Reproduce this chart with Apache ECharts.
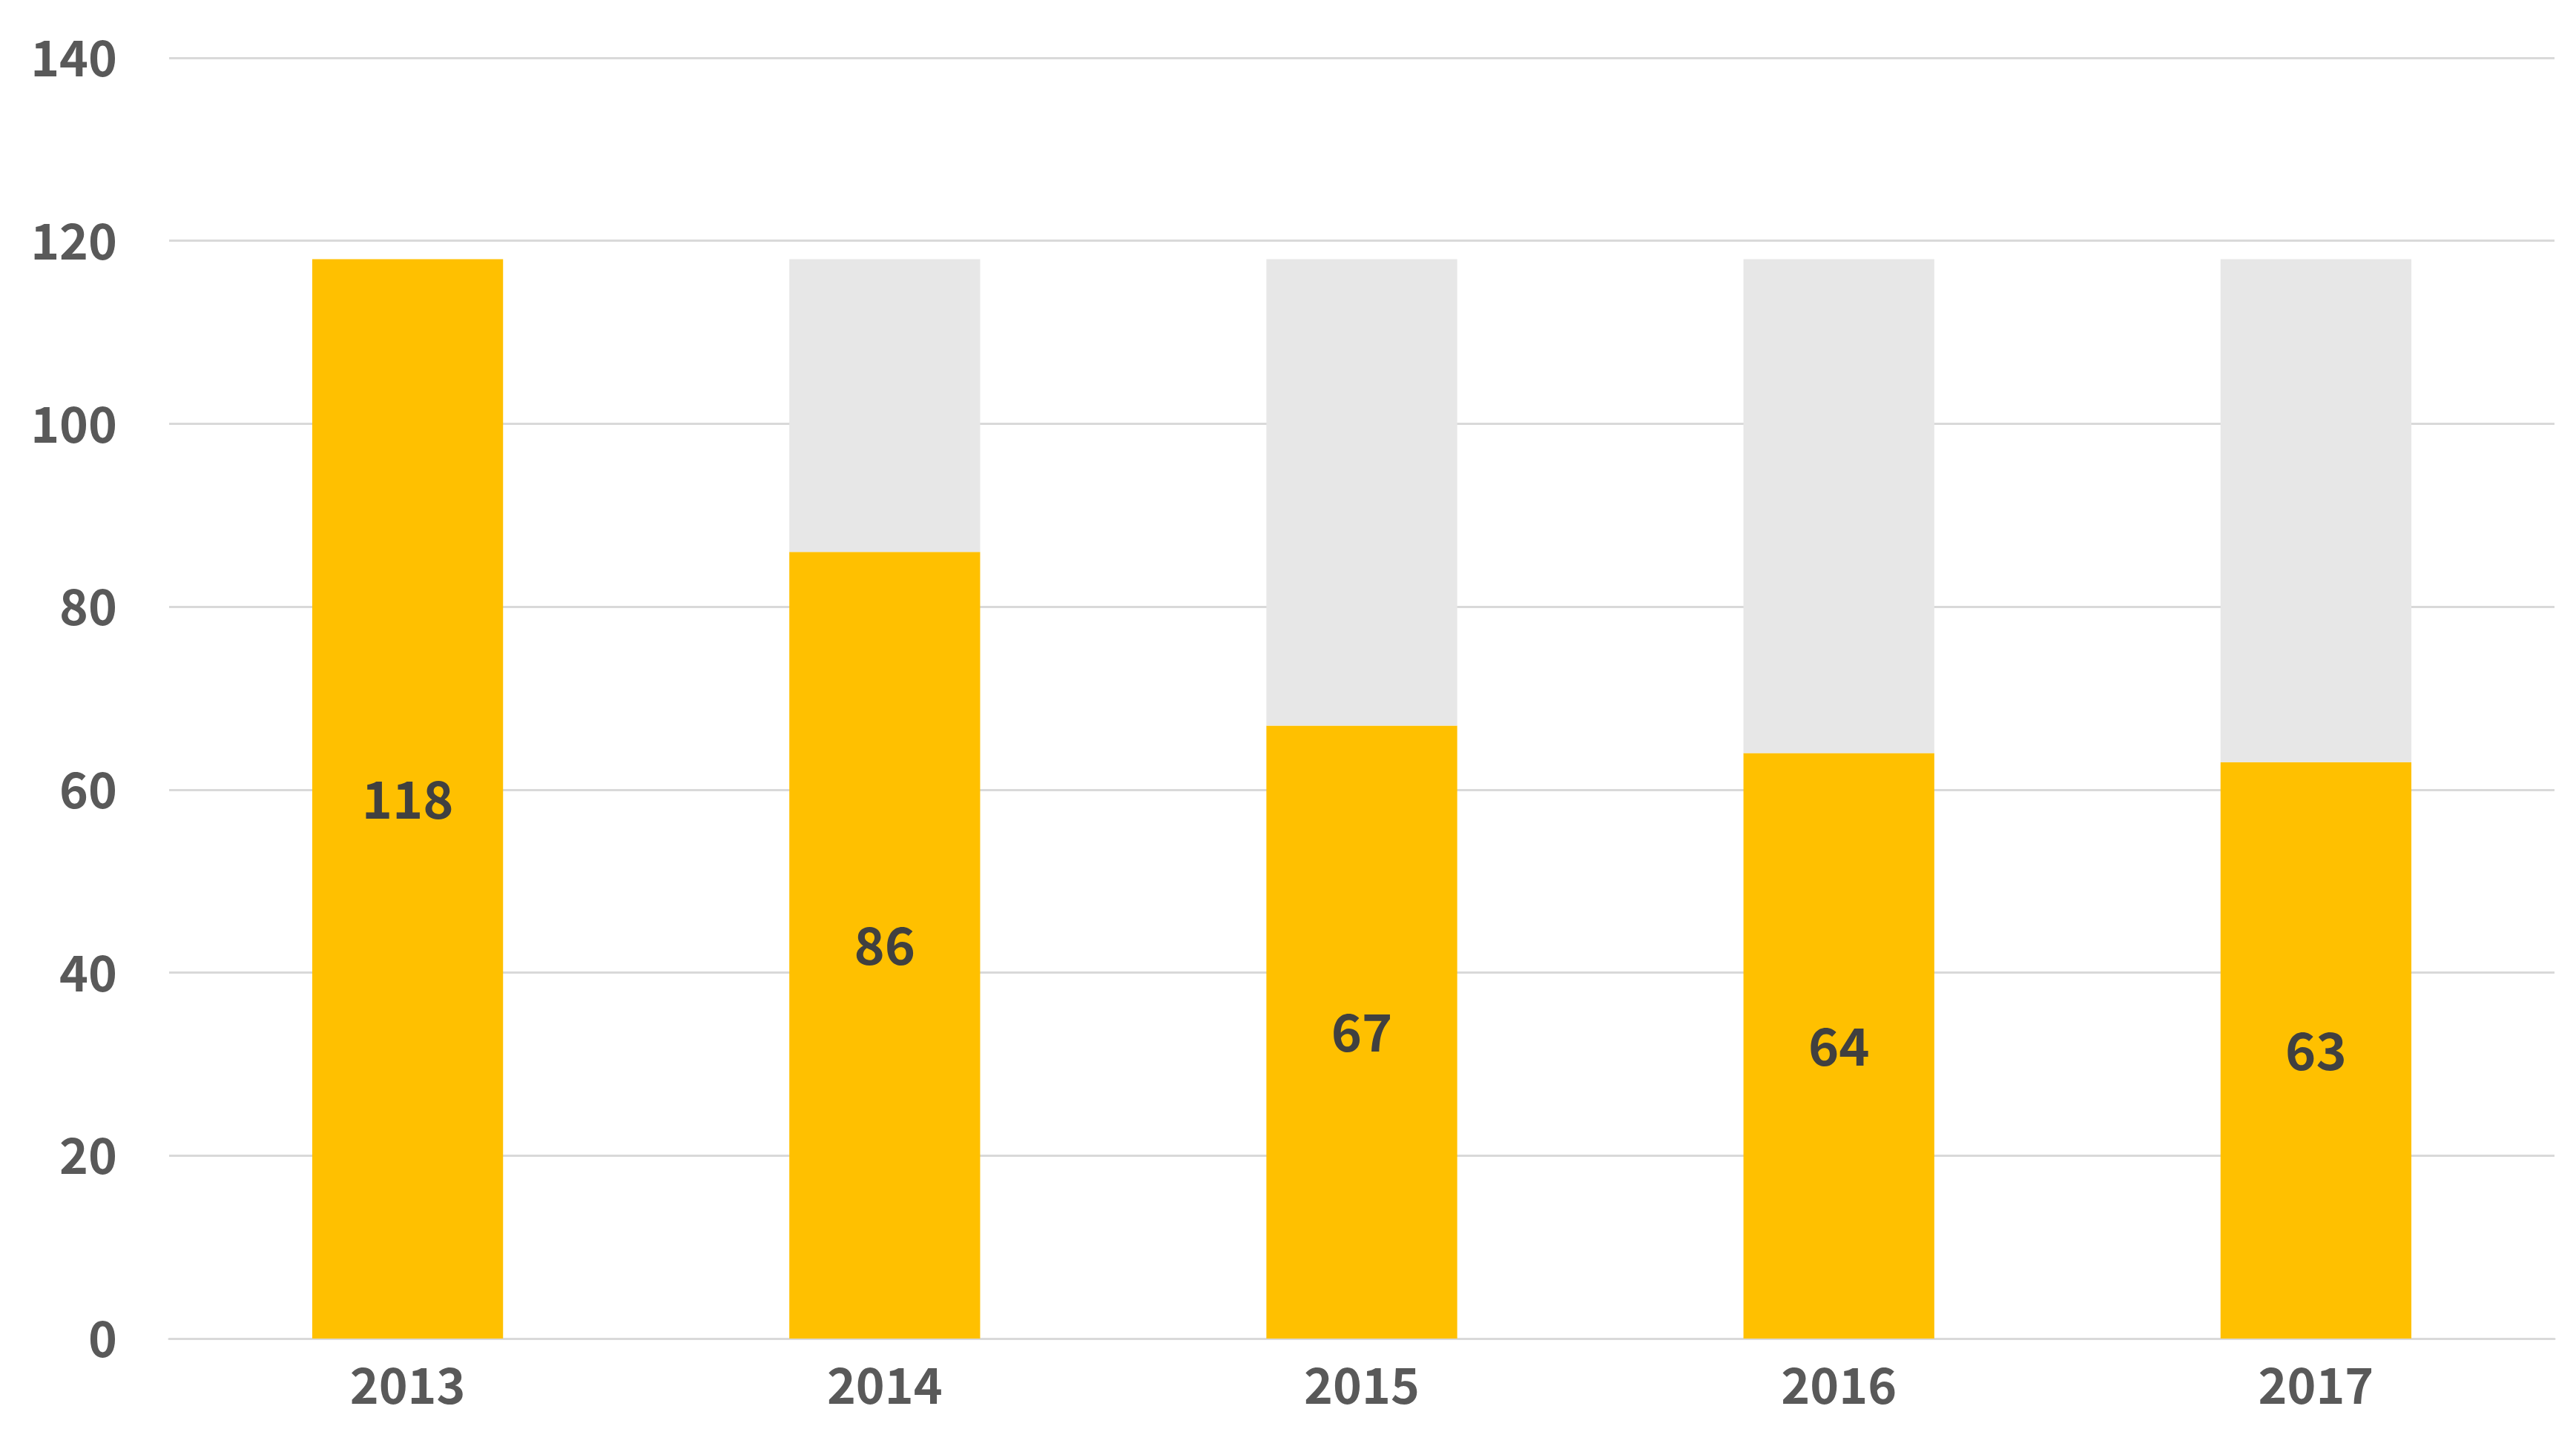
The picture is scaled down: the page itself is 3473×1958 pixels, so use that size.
<!DOCTYPE html>
<html><head><meta charset="utf-8">
<script src="https://cdn.jsdelivr.net/npm/echarts@6/dist/echarts.min.js"></script>
<style>html,body{margin:0;padding:0;background:#fff}#c{width:3473px;height:1958px}</style>
</head><body><div id="c"></div>
<script>
const categories = ['2013','2014','2015','2016','2017'];
const values = [118, 86, 67, 64, 63];
const totalMax = 118;
const yTicks = [0,20,40,60,80,100,120,140];
const remainder = values.map(v => totalMax - v);
const font = '"Noto Sans CJK JP", "Noto Sans", sans-serif';
const chart = echarts.init(document.getElementById('c'));
chart.setOption({
  animation: false,
  grid: {left: 228, right: 29, top: 78, bottom: 153},
  xAxis: {type: 'category', data: categories,
    axisLine: {lineStyle: {color: '#d9d9d9', width: 3}}, axisTick: {show: false},
    axisLabel: {color: '#595959', fontSize: 66, fontWeight: 'bold', fontFamily: font, margin: 30}},
  yAxis: {type: 'value', min: yTicks[0], max: yTicks[yTicks.length-1], interval: 20,
    axisLine: {show: false}, axisTick: {show: false},
    splitLine: {lineStyle: {color: '#d9d9d9', width: 3}},
    axisLabel: {color: '#595959', fontSize: 66, fontWeight: 'bold', fontFamily: font, margin: 70}},
  series: [
    {type: 'bar', stack: 's', data: values, barWidth: '40%', itemStyle: {color: '#ffc000'},
     label: {show: true, position: 'inside', color: '#404040', fontSize: 70, fontWeight: 'bold', fontFamily: font}},
    {type: 'bar', stack: 's', data: remainder, itemStyle: {color: '#e7e7e7'}, label: {show: false}}
  ]
});
</script></body></html>
